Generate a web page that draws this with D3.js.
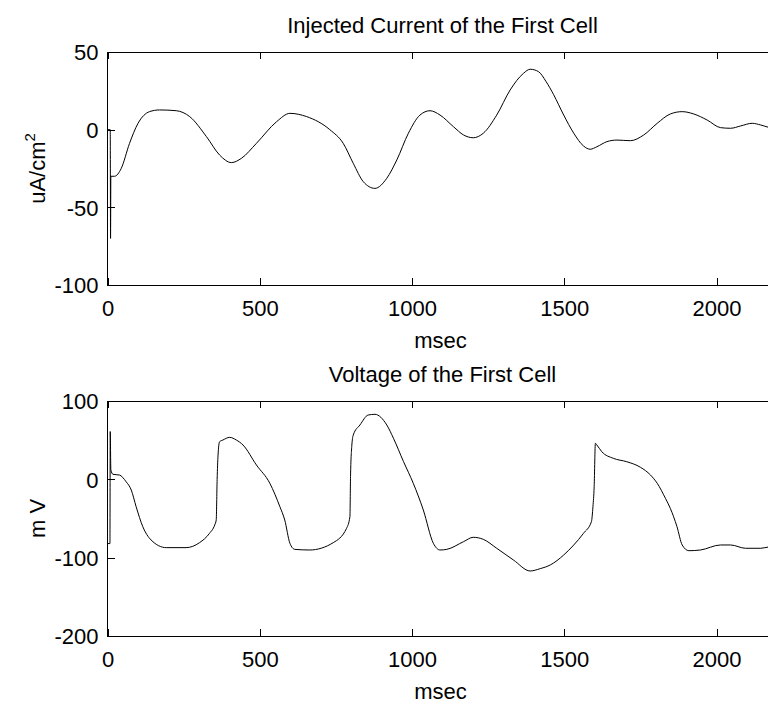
<!DOCTYPE html>
<html>
<head>
<meta charset="utf-8">
<script src="https://cdn.jsdelivr.net/npm/d3@7"></script>
<style>
  html, body { margin: 0; padding: 0; background: #fff; }
  svg { display: block; }
  text { font-family: "Liberation Sans", Arial, sans-serif; fill: #000; }
</style>
</head>
<body>
<script>
// ---- data ----
const currentT = [0, 9, 10, 11, 23, 45, 72, 100, 138, 171, 226, 270, 325, 368, 407, 440, 489, 555, 599, 654, 730, 774, 807, 840, 878, 917, 950, 988, 1026, 1059, 1092, 1136, 1169, 1201, 1234, 1278, 1322, 1366, 1388, 1415, 1440, 1465, 1498, 1531, 1563, 1585, 1607, 1640, 1673, 1717, 1761, 1805, 1848, 1887, 1925, 1969, 2013, 2046, 2079, 2117, 2145, 2171, 2200];
const currentV = [0, 0, -70, -30, -30, -25, -9, 4, 11.6, 12.7, 12.2, 8.4, -4.5, -16.3, -21.2, -18.4, -8.8, 5.1, 10.5, 8.4, 0, -8.8, -21.7, -33.5, -37.8, -31.3, -19.5, -2.3, 9.4, 12.2, 9.4, 1.9, -3.4, -5.2, -2.3, 9.4, 25.5, 36.3, 38.9, 37.4, 31, 22.5, 9.4, -2.3, -10.5, -12.6, -11, -7.7, -6.7, -7.1, -3.4, 4.1, 10.1, 11.6, 10.1, 6.2, 1.3, 0.9, 2.4, 4.1, 3, 1.5, 0.5];

const voltageT = [0, 8, 9, 11, 18, 39, 61, 78, 94, 116, 143, 193, 258, 302, 335, 352, 357, 360, 363, 368, 379, 401, 423, 445, 489, 533, 566, 582, 599, 615, 664, 741, 785, 796, 798, 802, 807, 829, 856, 878, 917, 939, 972, 1004, 1037, 1070, 1092, 1114, 1169, 1201, 1234, 1278, 1333, 1388, 1421, 1454, 1498, 1531, 1563, 1589, 1594, 1598, 1602, 1607, 1623, 1661, 1705, 1750, 1783, 1805, 1832, 1848, 1870, 1887, 1909, 1947, 2013, 2046, 2095, 2145, 2171, 2200];
const voltageV = [-82, -82, 61, 12, 6.4, 5.5, -3, -13.6, -34.9, -60.5, -77.4, -87.2, -87.2, -80.9, -68.9, -58.3, -51.9, 0, 31, 48, 50.2, 53.6, 50.2, 43.8, 18.3, -5, -34.9, -51.9, -81.7, -89.4, -90.2, -80.9, -62.5, -47.7, 3.4, 41.7, 56.6, 69.4, 82.1, 83, 69.4, 52.4, 22.6, -5, -39.2, -81.7, -90.2, -89.4, -79.6, -74, -76.6, -88, -103, -117, -114, -109.3, -96.6, -83.8, -68.9, -54, -34.9, -9.4, 46, 43.8, 35.3, 26.8, 22.5, 15.4, 5.5, -5, -24.2, -37, -60.5, -83.8, -91.1, -90.2, -83.8, -83.8, -88, -88, -86.4, -86];

const xTicks = [0, 500, 1000, 1500, 2000];
const currentTicks = [-100, -50, 0, 50];
const voltageTicks = [-200, -100, 0, 100];

const panels = [
  { title: "Injected Current of the First Cell", ylabel: "uA/cm", sup: "2", xlabel: "msec",
    t: currentT, v: currentV, yDomain: [-100, 50], yTicks: currentTicks, top: 52, bottom: 285 },
  { title: "Voltage of the First Cell", ylabel: "m V", sup: "", xlabel: "msec",
    t: voltageT, v: voltageV, yDomain: [-200, 100], yTicks: voltageTicks, top: 401, bottom: 636 }
];

// ---- drawing ----
const W = 768, H = 704;
const left = 107.5, right = 777.5;
const svg = d3.select("body").append("svg").attr("width", W).attr("height", H);
const x = d3.scaleLinear().domain([0, 2200]).range([left, right]);
const tickLen = 7;
const fs = 22;
const fmt = d => String(d);

panels.forEach((p, i) => {
  const y = d3.scaleLinear().domain(p.yDomain).range([p.bottom, p.top]);
  const g = svg.append("g");
  const clipId = "clip" + i;
  svg.append("clipPath").attr("id", clipId).append("rect")
    .attr("x", left).attr("y", p.top).attr("width", right - left).attr("height", p.bottom - p.top);

  // data line
  const pts = p.t.map((t, k) => [t, p.v[k]]);
  g.append("path")
    .datum(pts)
    .attr("clip-path", `url(#${clipId})`)
    .attr("fill", "none")
    .attr("stroke", "#000")
    .attr("stroke-width", 1)
    .attr("d", d3.line().x(d => x(d[0])).y(d => y(d[1])).curve(d3.curveMonotoneX));

  // box
  g.append("rect")
    .attr("x", left).attr("y", p.top)
    .attr("width", right - left).attr("height", p.bottom - p.top)
    .attr("fill", "none").attr("stroke", "#000").attr("stroke-width", 1)
    .attr("shape-rendering", "crispEdges");

  // bottom axis (inward ticks)
  const xb = d3.axisBottom(x).tickValues(xTicks).tickFormat(fmt).tickSizeInner(-tickLen).tickSizeOuter(0);
  const gx = g.append("g").attr("transform", `translate(0,${p.bottom})`).call(xb);
  gx.select(".domain").remove();
  gx.selectAll("line").attr("stroke", "#000").attr("shape-rendering", "crispEdges");
  gx.selectAll("text").attr("font-size", fs).attr("font-family", "Liberation Sans, Arial, sans-serif")
    .attr("y", 31).attr("dy", null);

  // top ticks
  const xt = d3.axisTop(x).tickValues(xTicks).tickSizeInner(-tickLen).tickSizeOuter(0).tickFormat("");
  const gxt = g.append("g").attr("transform", `translate(0,${p.top})`).call(xt);
  gxt.select(".domain").remove();
  gxt.selectAll("line").attr("stroke", "#000").attr("shape-rendering", "crispEdges");

  // left axis
  const yl = d3.axisLeft(y).tickValues(p.yTicks).tickFormat(fmt).tickSizeInner(-tickLen).tickSizeOuter(0);
  const gy = g.append("g").attr("transform", `translate(${left},0)`).call(yl);
  gy.select(".domain").remove();
  gy.selectAll("line").attr("stroke", "#000").attr("shape-rendering", "crispEdges");
  gy.selectAll("text").attr("font-size", fs).attr("font-family", "Liberation Sans, Arial, sans-serif")
    .attr("x", -9).attr("dy", "0.35em");

  const cx = (left + right) / 2;
  // title
  g.append("text").attr("x", cx).attr("y", p.top - 19)
    .attr("text-anchor", "middle").attr("font-size", fs).text(p.title);
  // x label
  g.append("text").attr("x", cx - 2).attr("y", p.bottom + 63)
    .attr("text-anchor", "middle").attr("font-size", fs).text(p.xlabel);
  // y label
  const cy = (p.top + p.bottom) / 2;
  const yt = g.append("text")
    .attr("transform", `translate(45,${cy}) rotate(-90)`)
    .attr("text-anchor", "middle").attr("font-size", fs);
  yt.append("tspan").text(p.ylabel);
  if (p.sup) {
    yt.append("tspan").attr("font-size", 15).attr("dy", -10).text(p.sup);
  }
});
</script>
</body>
</html>
